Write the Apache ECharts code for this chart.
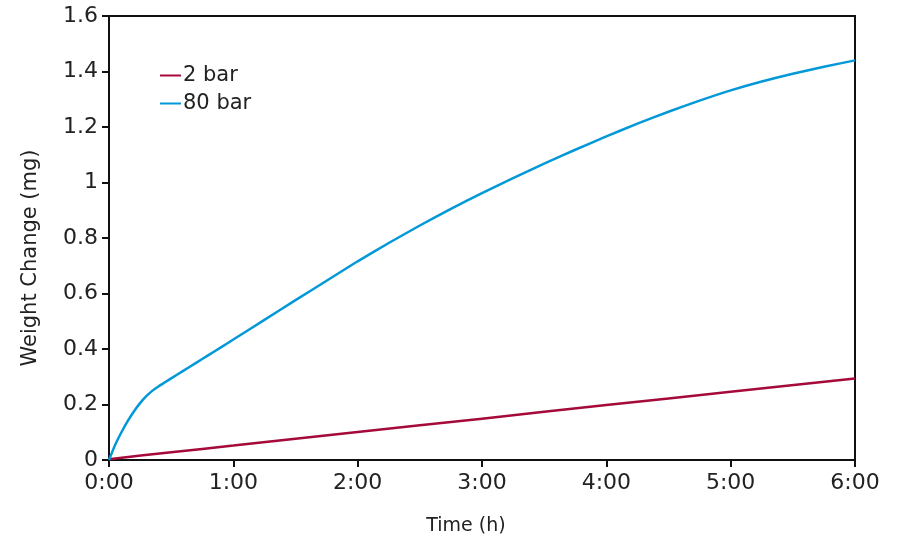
<!DOCTYPE html>
<html>
<head>
<meta charset="utf-8">
<script src="https://cdn.jsdelivr.net/npm/echarts@6/dist/echarts.min.js"></script>
<style>html,body{margin:0;padding:0;background:#fff}#c{width:899px;height:544px}</style>
</head>
<body>
<div id="c"></div>
<script>
const seriesNames = ['2 bar', '80 bar'];
const time2 = [0, 0.5, 1, 2, 3, 4, 5, 6];
const bar2 = [0.003, 0.028, 0.052, 0.101, 0.149, 0.198, 0.246, 0.294];
const time80 = [0, 0.05, 0.1, 0.15, 0.2, 0.25, 0.3, 0.35, 0.4, 0.45, 0.5, 0.6, 0.7, 0.8, 0.9, 1.0, 1.25, 1.5, 1.75, 2.0, 2.25, 2.5, 2.75, 3.0, 3.25, 3.5, 3.75, 4.0, 4.25, 4.5, 4.75, 5.0, 5.25, 5.5, 5.75, 6.0];
const bar80 = [0, 0.055, 0.1, 0.14, 0.175, 0.205, 0.23, 0.25, 0.266, 0.28, 0.294, 0.322, 0.35, 0.378, 0.406, 0.434, 0.505, 0.576, 0.646, 0.716, 0.782, 0.845, 0.905, 0.962, 1.016, 1.068, 1.118, 1.166, 1.212, 1.255, 1.295, 1.332, 1.364, 1.392, 1.417, 1.44];
const xTicks = ['0:00', '1:00', '2:00', '3:00', '4:00', '5:00', '6:00'];
const yTicks = ['0', '0.2', '0.4', '0.6', '0.8', '1', '1.2', '1.4', '1.6'];

const font = 'DejaVu Sans';
const chart = echarts.init(document.getElementById('c'));
chart.setOption({
  animation: false,
  textStyle: { fontFamily: font },
  grid: { left: 109, right: 44, top: 16, bottom: 84, show: true, borderColor: '#111', borderWidth: 2 },
  legend: {
    orient: 'vertical', left: 155, top: 60, itemWidth: 21, itemHeight: 2, itemGap: 7,
    icon: 'rect',
    textStyle: { fontFamily: font, fontSize: 21, color: '#222', padding: [0, 0, 0, -3] },
    data: seriesNames
  },
  xAxis: {
    type: 'value', min: 0, max: 6, interval: 1,
    name: 'Time (h)', nameLocation: 'middle', nameGap: 57,
    nameTextStyle: { fontFamily: font, fontSize: 19, color: '#222', padding: [0, 32, 0, 0] },
    axisLine: { lineStyle: { color: '#111', width: 2 } },
    axisTick: { length: 7, lineStyle: { color: '#111', width: 2 } },
    axisLabel: { fontSize: 22, color: '#222', margin: 12, formatter: v => xTicks[Math.round(v)] },
    splitLine: { show: false }
  },
  yAxis: {
    type: 'value', min: 0, max: 1.6, interval: 0.2,
    name: 'Weight Change (mg)', nameLocation: 'middle', nameGap: 68,
    nameTextStyle: { fontFamily: font, fontSize: 21, color: '#222', padding: [0, 40, 0, 0] },
    axisLine: { show: true, lineStyle: { color: '#111', width: 2 } },
    axisTick: { show: true, length: 7, lineStyle: { color: '#111', width: 2 } },
    axisLabel: { fontSize: 22, color: '#222', margin: 11, formatter: v => yTicks[Math.round(v / 0.2)] },
    splitLine: { show: false }
  },
  series: [
    { name: seriesNames[0], type: 'line', showSymbol: false, smooth: 0.15, color: '#a50a3a',
      lineStyle: { width: 2.5 }, data: time2.map((t, i) => [t, bar2[i]]) },
    { name: seriesNames[1], type: 'line', showSymbol: false, smooth: 0.15, color: '#0399d8',
      lineStyle: { width: 2.5 }, data: time80.map((t, i) => [t, bar80[i]]) }
  ]
});
</script>
</body>
</html>
